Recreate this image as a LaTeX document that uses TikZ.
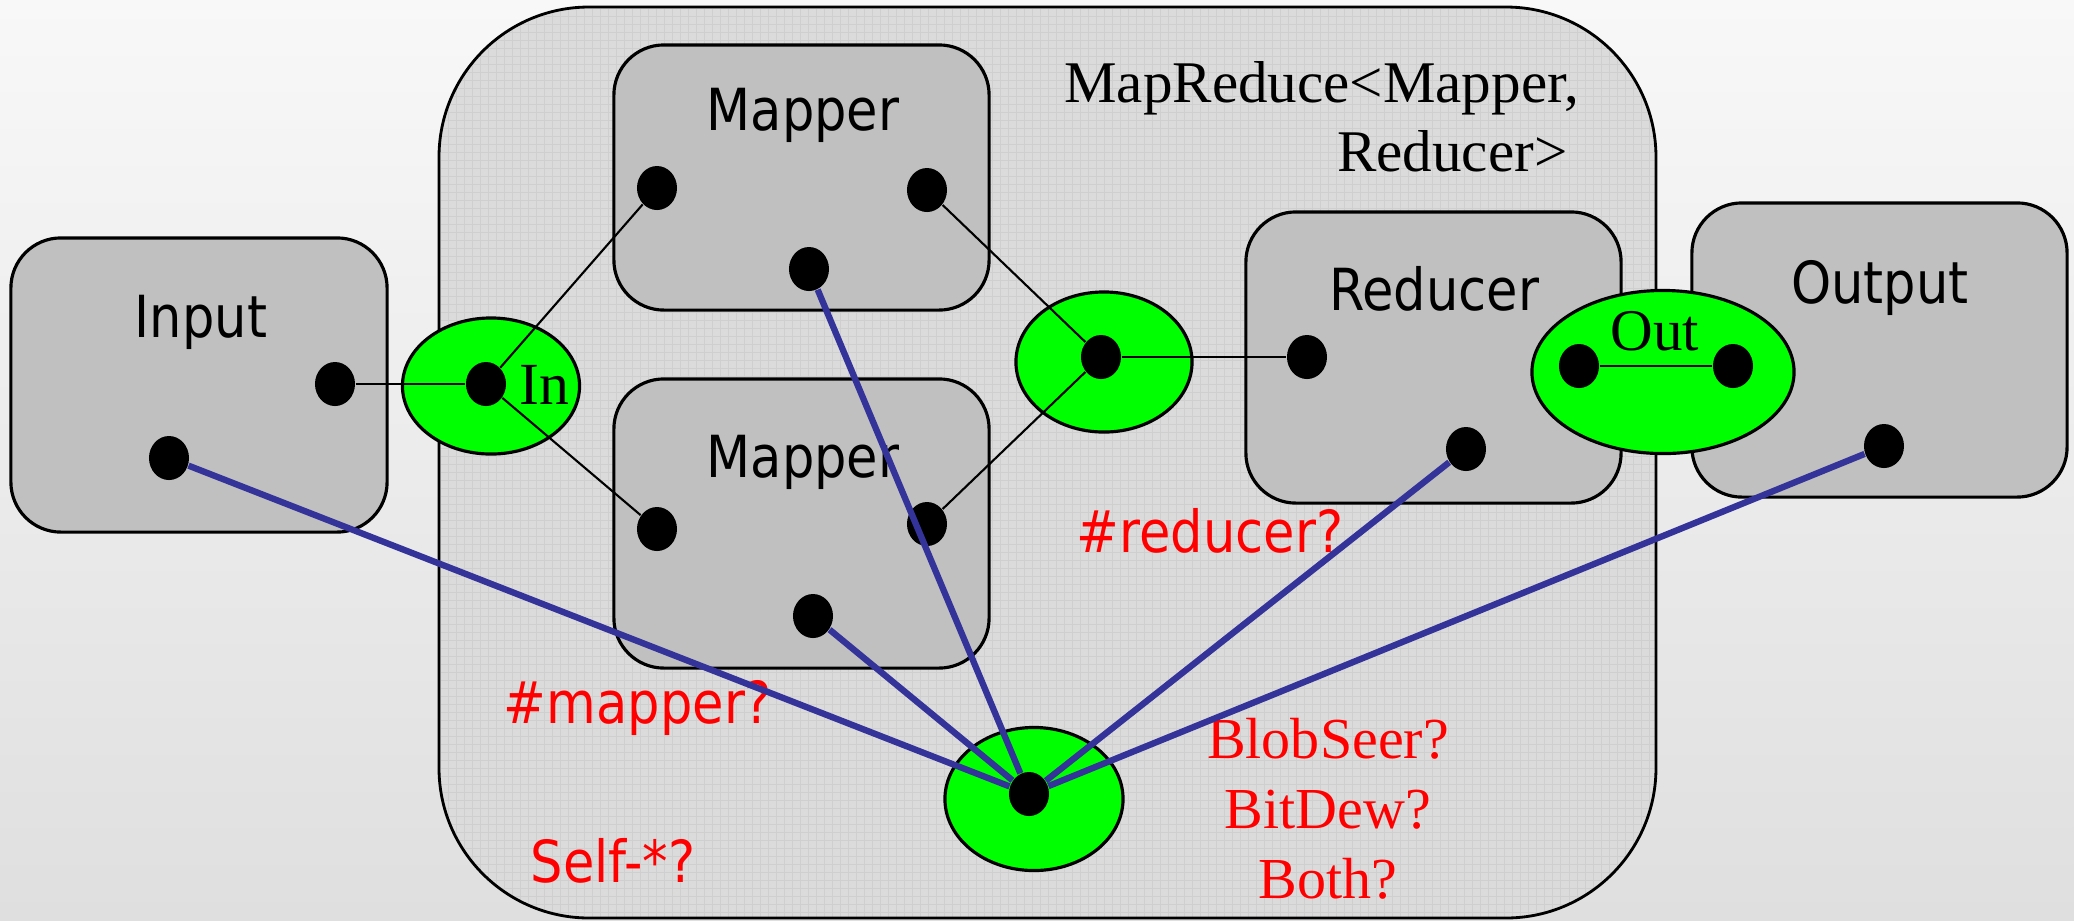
\documentclass[tikz,border=0pt]{standalone}
\usepackage{fontspec}
\setmainfont{Liberation Serif}
\newfontfamily\sansf[FakeStretch=0.88]{DejaVu Sans}
\usetikzlibrary{shapes.geometric}
\definecolor{boxgray}{RGB}{192,192,192}
\definecolor{portgreen}{RGB}{0,255,0}
\definecolor{linkblue}{RGB}{51,51,153}
\definecolor{qred}{RGB}{255,0,0}
\definecolor{bgtop}{RGB}{248,248,248}
\definecolor{bgbot}{RGB}{223,223,223}
\definecolor{bigfill}{RGB}{219,219,219}
\definecolor{gridc}{RGB}{207,207,207}
\tikzset{
  box/.style={draw=black, line width=0.9pt, fill=boxgray, rounded corners=0.5cm, inner sep=0pt},
  dot/.style={ellipse, fill=black, minimum width=0.4cm, minimum height=0.44cm, inner sep=0pt},
  port/.style={ellipse, draw=black, line width=0.9pt, fill=portgreen, inner sep=0pt},
  wire/.style={line width=0.6pt, draw=black},
  link/.style={line width=1.8pt, draw=linkblue},
  slabel/.style={font=\sansf\fontsize{16.5}{19}\selectfont, anchor=base, inner sep=0pt},
  rlabel/.style={font=\sansf\fontsize{16.5}{19}\selectfont, anchor=base, inner sep=0pt, text=qred},
  tlabel/.style={font=\fontsize{16.8}{19}\selectfont, inner sep=0pt},
  rtlabel/.style={font=\fontsize{16.5}{19}\selectfont, anchor=base, inner sep=0pt, text=qred},
}
\begin{document}
\begin{tikzpicture}[x=0.01cm, y=-0.01cm]
\useasboundingbox (0,0) rectangle (2074,920);
\shade[top color=bgtop, bottom color=bgbot] (0,0) rectangle (2074,920);
% big MapReduce container
\fill[bigfill, rounded corners=1.5cm] (439,7) rectangle (1656,918);
\begin{scope}
  \clip[rounded corners=1.5cm] (439,7) rectangle (1656,918);
  \draw[gridc, line width=0.25pt, step=0.08cm] (439,7) grid (1656,918);
\end{scope}
\draw[black, line width=0.8pt, rounded corners=1.5cm] (439,7) rectangle (1656,918);
% boxes
\node[box, minimum width=3.76cm, minimum height=2.94cm] (input) at (199,385) {};
\node[box, minimum width=3.75cm, minimum height=2.65cm] (mapper1) at (801.5,177.5) {};
\node[box, minimum width=3.75cm, minimum height=2.89cm] (mapper2) at (801.5,523.5) {};
\node[box, minimum width=3.75cm, minimum height=2.91cm] (reducer) at (1433.5,357.5) {};
\node[box, minimum width=3.75cm, minimum height=2.94cm] (output) at (1879.5,350) {};
% box labels
\node[slabel] (inputlbl) at (201,337) {Input};
\node[slabel] (m1lbl) at (803,130) {Mapper};
\node[slabel] (m2lbl) at (803,477) {Mapper};
\node[slabel] (rlbl) at (1434,310) {Reducer};
\node[slabel] (olbl) at (1880,303) {Output};
% title
\node[tlabel, anchor=base east] (mr1) at (1580,102) {MapReduce<Mapper,};
\node[tlabel, anchor=base east] (mr2) at (1568,171) {Reducer>};
% red questions
\node[rlabel] (qred1) at (1210,552) {\#reducer?};
\node[rlabel] (qmap) at (638,723) {\#mapper?};
\node[rlabel] (qself) at (613,882) {Self-*?};
\node[rtlabel] (qb1) at (1328,758) {BlobSeer?};
\node[rtlabel] (qb2) at (1328,828) {BitDew?};
\node[rtlabel] (qb3) at (1328,898) {Both?};
% green ports
\node[port, minimum width=1.77cm, minimum height=1.36cm] (inport) at (491,386) {};
\node[port, minimum width=1.76cm, minimum height=1.40cm] (midport) at (1104,362) {};
\node[port, minimum width=2.62cm, minimum height=1.63cm] (outport) at (1663,372) {};
\node[port, minimum width=1.78cm, minimum height=1.43cm] (botport) at (1034,799) {};
\node[tlabel, anchor=base, font=\fontsize{17}{20}\selectfont] (inlbl) at (544,404) {In};
\node[tlabel, anchor=base] (outlbl) at (1655,350) {Out};
% dots
\node[dot] (inR) at (335,384) {};
\node[dot] (inB) at (169,458) {};
\node[dot] (inC) at (486,384) {};
\node[dot] (m1L) at (657,188) {};
\node[dot] (m1R) at (927,190) {};
\node[dot] (m1B) at (809,269) {};
\node[dot] (m2L) at (657,529) {};
\node[dot] (m2R) at (927,524) {};
\node[dot] (m2B) at (813,616) {};
\node[dot] (mid) at (1101,357) {};
\node[dot] (rL) at (1307,357) {};
\node[dot] (rB) at (1466,449) {};
\node[dot] (oL) at (1579,366) {};
\node[dot] (oR) at (1733,366) {};
\node[dot] (outD) at (1884,446) {};
\node[dot] (bot) at (1029,794) {};
% black wires
\draw[wire] (inR) -- (inC);
\draw[wire] (inC) -- (m1L);
\draw[wire] (inC) -- (m2L);
\draw[wire] (m1R) -- (mid);
\draw[wire] (m2R) -- (mid);
\draw[wire] (mid) -- (rL);
\draw[wire] (oL) -- (oR);
% blue links
\draw[link] (inB) -- (bot);
\draw[link] (m1B) -- (bot);
\draw[link] (m2B) -- (bot);
\draw[link] (rB) -- (bot);
\draw[link] (outD) -- (bot);
\end{tikzpicture}
\end{document}
